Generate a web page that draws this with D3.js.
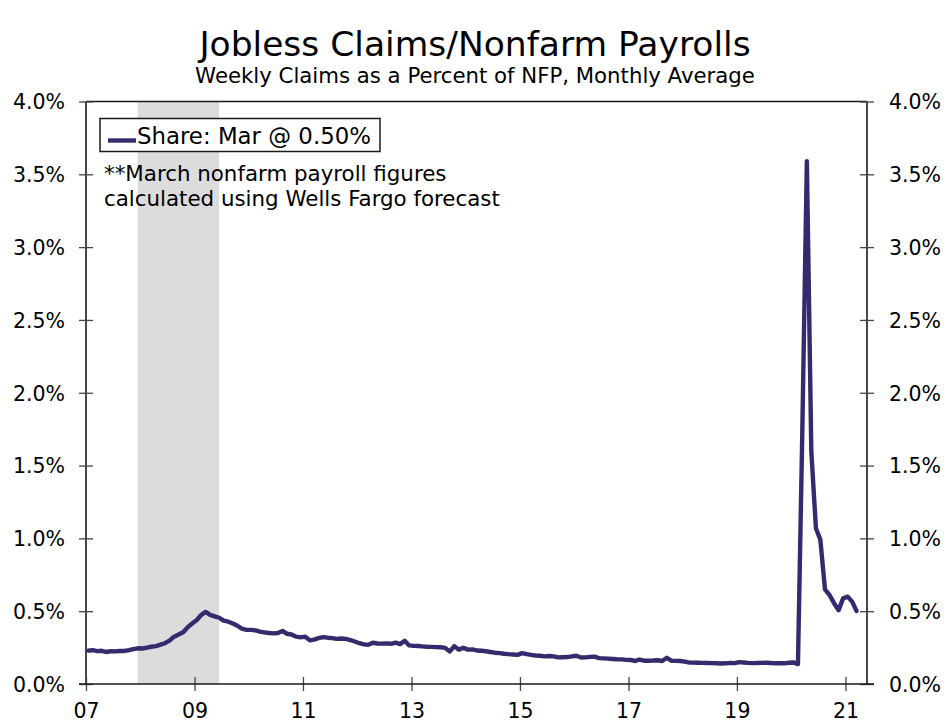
<!DOCTYPE html>
<html>
<head>
<meta charset="utf-8">
<script src="https://cdn.jsdelivr.net/npm/d3@7"></script>
<style>
  html, body { margin: 0; padding: 0; background: #fff; }
  svg { display: block; }
  text { font-family: "DejaVu Sans", Verdana, sans-serif; fill: #000; }
</style>
</head>
<body>
<svg id="chart" width="947" height="727"></svg>
<script>
// ---------- DATA ----------
const title = "Jobless Claims/Nonfarm Payrolls";
const subtitle = "Weekly Claims as a Percent of NFP, Monthly Average";
const legendLabel = "Share: Mar @ 0.50%";
const noteLines = ["**March nonfarm payroll figures", "calculated using Wells Fargo forecast"];

const startYear = 2007; // monthly series starts Jan 2007
// Weekly claims as % of nonfarm payrolls, monthly average (Jan 2007 - Mar 2021)
const share2007 = [0.229, 0.232, 0.226, 0.228, 0.220, 0.225, 0.224, 0.227, 0.227, 0.232, 0.240, 0.245];
const share2008 = [0.244, 0.250, 0.256, 0.260, 0.270, 0.280, 0.298, 0.325, 0.340, 0.355, 0.390, 0.415];
const share2009 = [0.440, 0.475, 0.495, 0.475, 0.465, 0.455, 0.435, 0.428, 0.415, 0.400, 0.380, 0.372];
const share2010 = [0.372, 0.368, 0.360, 0.355, 0.350, 0.348, 0.350, 0.364, 0.345, 0.340, 0.325, 0.320];
const share2011 = [0.325, 0.300, 0.305, 0.315, 0.322, 0.318, 0.315, 0.310, 0.312, 0.310, 0.302, 0.292];
const share2012 = [0.280, 0.272, 0.270, 0.283, 0.278, 0.277, 0.279, 0.276, 0.284, 0.274, 0.297, 0.265];
const share2013 = [0.262, 0.261, 0.258, 0.256, 0.255, 0.253, 0.252, 0.248, 0.224, 0.260, 0.236, 0.249];
const share2014 = [0.236, 0.238, 0.230, 0.228, 0.225, 0.220, 0.215, 0.212, 0.208, 0.205, 0.203, 0.200];
const share2015 = [0.212, 0.205, 0.200, 0.196, 0.194, 0.190, 0.192, 0.190, 0.183, 0.184, 0.185, 0.190];
const share2016 = [0.194, 0.182, 0.183, 0.186, 0.188, 0.178, 0.176, 0.174, 0.172, 0.170, 0.169, 0.166];
const share2017 = [0.165, 0.158, 0.168, 0.160, 0.160, 0.161, 0.163, 0.158, 0.180, 0.160, 0.159, 0.158];
const share2018 = [0.154, 0.147, 0.147, 0.146, 0.145, 0.144, 0.143, 0.142, 0.141, 0.142, 0.144, 0.143];
const share2019 = [0.150, 0.148, 0.145, 0.143, 0.144, 0.145, 0.146, 0.144, 0.142, 0.143, 0.142, 0.146];
const share2020 = [0.148, 0.137, 1.710, 3.590, 1.600, 1.070, 0.990, 0.650, 0.610, 0.555, 0.507, 0.588];
const share2021 = [0.600, 0.564, 0.502];

const recession = [new Date(2007, 11, 15), new Date(2009, 5, 15)];
const xTickYears = [2007, 2009, 2011, 2013, 2015, 2017, 2019, 2021];
const xTickLabels = ["07", "09", "11", "13", "15", "17", "19", "21"];
const yTicks = [0, 0.5, 1, 1.5, 2, 2.5, 3, 3.5, 4];
const yTickLabels = ["0.0%", "0.5%", "1.0%", "1.5%", "2.0%", "2.5%", "3.0%", "3.5%", "4.0%"];

// ---------- BUILD SERIES ----------
const allShares = [share2007, share2008, share2009, share2010, share2011, share2012, share2013,
  share2014, share2015, share2016, share2017, share2018, share2019, share2020, share2021];
const series = [];
allShares.forEach((arr, yi) => arr.forEach((v, mi) => series.push({ date: new Date(startYear + yi, mi, 16), value: v })));

// ---------- LAYOUT ----------
const svg = d3.select("#chart");
const L = 86, R = 867, T = 101.5, B = 684;
const lineColor = "#342a6d";

const x = d3.scaleTime().domain([new Date(2007, 0, 1), new Date(2021, 4, 26)]).range([L, R]);
const y = d3.scaleLinear().domain([0, 4]).range([B, T]);

function fit(sel, target) {
  const node = sel.node();
  const fs = parseFloat(sel.attr("font-size"));
  const w = node.getComputedTextLength();
  sel.attr("font-size", (fs * target / w).toFixed(2));
}

// recession shading
svg.append("rect")
  .attr("x", x(recession[0])).attr("y", T)
  .attr("width", x(recession[1]) - x(recession[0])).attr("height", B - T)
  .attr("fill", "#dcdcdc");

// frame
const frame = svg.append("g").attr("stroke", "#1a1a1a").attr("stroke-width", 1.6).attr("fill", "none");
frame.append("line").attr("x1", L).attr("x2", R).attr("y1", T).attr("y2", T);
frame.append("line").attr("x1", L).attr("x2", L).attr("y1", T).attr("y2", B);
frame.append("line").attr("x1", R).attr("x2", R).attr("y1", T).attr("y2", B);

// axes
const tickSize = 7;
const yLeft = d3.axisLeft(y).tickValues(yTicks).tickFormat((d, i) => yTickLabels[i]).tickSizeInner(tickSize).tickSizeOuter(0).tickPadding(15);
const yRight = d3.axisRight(y).tickValues(yTicks).tickFormat((d, i) => yTickLabels[i]).tickSizeInner(tickSize).tickSizeOuter(0).tickPadding(15);
const xAxis = d3.axisBottom(x).tickValues(xTickYears.map(yy => new Date(yy, 0, 1))).tickFormat((d, i) => xTickLabels[i]).tickSizeInner(6).tickSizeOuter(0).tickPadding(16);

const gl = svg.append("g").attr("transform", `translate(${L},0)`).call(yLeft);
const gr = svg.append("g").attr("transform", `translate(${R},0)`).call(yRight);
const gx = svg.append("g").attr("transform", `translate(0,${B})`).call(xAxis);

[gl, gr, gx].forEach(g => {
  g.select(".domain").remove();
  g.selectAll(".tick line").attr("stroke", "#444").attr("stroke-width", 1.3);
  g.selectAll(".tick text").attr("font-family", "DejaVu Sans, Verdana, sans-serif").attr("fill", "#000");
});
// ticks cross the axis lines
gl.selectAll(".tick line").attr("x1", tickSize).attr("x2", -tickSize);
gr.selectAll(".tick line").attr("x1", -tickSize).attr("x2", tickSize);
gx.selectAll(".tick line").attr("y1", -7).attr("y2", 7);

gl.selectAll(".tick text").attr("font-size", 20.5).attr("x", -21).attr("dy", "0.36em");
gr.selectAll(".tick text").attr("font-size", 20.5).attr("x", 22).attr("dy", "0.36em");
gx.selectAll(".tick text").attr("font-size", 20.5).attr("y", 19).attr("dy", "0.71em");

// bottom axis line
svg.append("line").attr("x1", L - tickSize).attr("x2", R + tickSize).attr("y1", B).attr("y2", B)
  .attr("stroke", "#1a1a1a").attr("stroke-width", 1.6);

// line
const line = d3.line().x(d => x(d.date)).y(d => y(d.value)).curve(d3.curveLinear);
svg.append("path").datum(series)
  .attr("d", line).attr("fill", "none")
  .attr("stroke", lineColor).attr("stroke-width", 4.4)
  .attr("stroke-linejoin", "round").attr("stroke-linecap", "round");

// legend
svg.append("rect").attr("x", 100).attr("y", 118.5).attr("width", 280).attr("height", 33)
  .attr("fill", "#fff").attr("stroke", "#1a1a1a").attr("stroke-width", 1.5);
svg.append("line").attr("x1", 108).attr("x2", 136).attr("y1", 140.5).attr("y2", 140.5)
  .attr("stroke", lineColor).attr("stroke-width", 4.4);
const lt = svg.append("text").attr("x", 137).attr("y", 143.5).attr("font-size", 19).text(legendLabel);
fit(lt, 234);

// note
const n2 = svg.append("text").attr("x", 104).attr("y", 206).attr("font-size", 19).text(noteLines[1]);
fit(n2, 396);
const n1 = svg.append("text").attr("x", 104).attr("y", 181).attr("font-size", n2.attr("font-size")).text(noteLines[0]);

// titles
const t1 = svg.append("text").attr("x", 475).attr("y", 56).attr("text-anchor", "middle").attr("font-size", 34.5).text(title);
const t2 = svg.append("text").attr("x", 475).attr("y", 83).attr("text-anchor", "middle").attr("font-size", 18).text(subtitle);
fit(t2, 560);
</script>
</body>
</html>
